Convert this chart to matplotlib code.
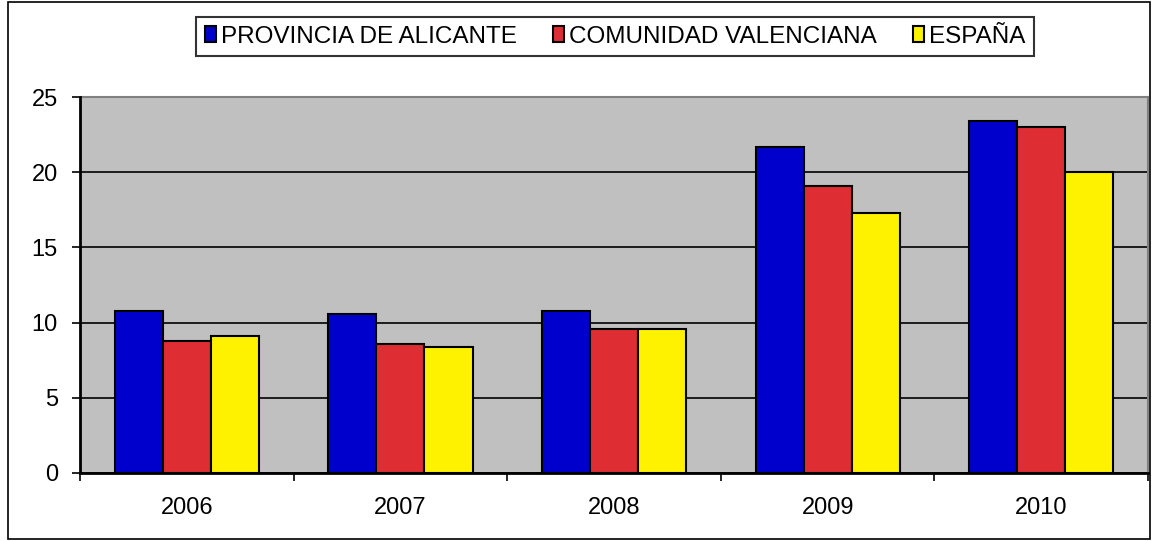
import matplotlib.pyplot as plt
from matplotlib.patches import Rectangle
import numpy as np

plt.rcParams['font.family'] = ['Liberation Sans', 'DejaVu Sans']

years = ['2006', '2007', '2008', '2009', '2010']
series_names = ['PROVINCIA DE ALICANTE', 'COMUNIDAD VALENCIANA', 'ESPAÑA']
alicante = [10.8, 10.6, 10.8, 21.7, 23.4]
valenciana = [8.8, 8.6, 9.6, 19.1, 23.0]
espana = [9.1, 8.4, 9.6, 17.3, 20.0]
colors = ['#0000CC', '#DF2E33', '#FFF200']

fig = plt.figure(figsize=(11.58, 5.41), dpi=100)
ax = fig.add_axes([0.0691, 0.1257, 0.9223, 0.695])

# outer chart border
fig.patches.append(Rectangle((0.007, 0.004), 0.986, 0.992, transform=fig.transFigure,
                             fill=False, edgecolor='black', linewidth=1.2))

x = np.arange(len(years))
w = 0.225
for i, (vals, name) in enumerate(zip([alicante, valenciana, espana], series_names)):
    ax.bar(x + (i - 1) * w, vals, w, color=colors[i], edgecolor='black',
           linewidth=1.5, label=name, zorder=3)

ax.set_facecolor('#C0C0C0')
ax.set_xlim(-0.5, len(years) - 0.5)
ax.set_ylim(0, 25)
ax.set_yticks([0, 5, 10, 15, 20, 25])
ax.yaxis.grid(True, color='black', linewidth=1.2, zorder=1)
# category boundaries get the tick marks, labels sit between them
ax.set_xticks(np.arange(len(years) + 1) - 0.5)
ax.set_xticklabels([])
ax.set_xticks(x, minor=True)
ax.set_xticklabels(years, minor=True)
ax.tick_params(axis='x', which='minor', length=0, labelsize=17, pad=17)
ax.tick_params(axis='x', which='major', length=6, width=1.2, direction='out')
ax.tick_params(axis='y', length=6, width=1.2, labelsize=17, pad=10)

for s in ['left', 'bottom']:
    ax.spines[s].set_linewidth(2)
    ax.spines[s].set_zorder(4)
for s in ['top', 'right']:
    ax.spines[s].set_color('#808080')
    ax.spines[s].set_linewidth(1.5)

leg = fig.legend(loc='center', bbox_to_anchor=(0.531, 0.932), ncol=3, frameon=True,
                 fancybox=False, edgecolor='black', handlelength=0.45,
                 handleheight=0.65, handletextpad=0.2, columnspacing=1.5,
                 borderpad=0.35, fontsize=17.5)
leg.get_frame().set_linewidth(1.5)

fig.savefig('out.png', dpi=100)
